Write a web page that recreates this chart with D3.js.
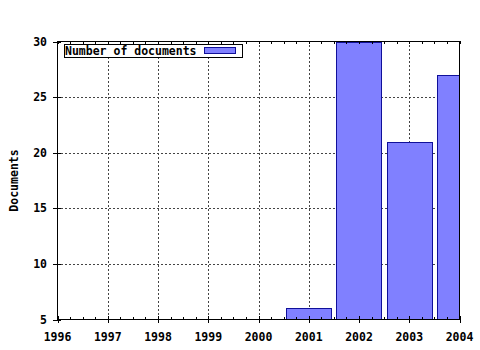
<!DOCTYPE html>
<html>
<head>
<meta charset="utf-8">
<script src="https://cdn.jsdelivr.net/npm/d3@7"></script>
<style>
  body { margin: 0; background: #fff; }
  text { font-family: "DejaVu Sans Mono", monospace; font-weight: bold; font-size: 11.5px; fill: #000; }
</style>
</head>
<body>
<div id="chart"></div>
<script>
// data
var years = [2001, 2002, 2003, 2004];
var docs = [6, 30, 21, 27];
var xTicks = [1996, 1997, 1998, 1999, 2000, 2001, 2002, 2003, 2004];
var yTicks = [5, 10, 15, 20, 25, 30];
var seriesName = "Number of documents";

var W = 480, H = 350;
var margin = {top: 41, right: 21, bottom: 30, left: 57};
var width = W - margin.left - margin.right,
    height = H - margin.top - margin.bottom;

var svg = d3.select("#chart").append("svg")
    .attr("width", W).attr("height", H);

var g = svg.append("g")
    .attr("transform", "translate(" + margin.left + "," + margin.top + ")");

var x = d3.scaleLinear().domain([1996, 2004]).range([0.5, width + 0.5]);
var y = d3.scaleLinear().domain([5, 30]).range([height - 0.5, 0.5]);

g.append("defs").append("clipPath").attr("id", "clip")
  .append("rect").attr("x", 0).attr("y", 0).attr("width", width + 1).attr("height", height);

// grid
g.selectAll(".vgrid").data(xTicks.slice(1, -1)).enter().append("line")
    .attr("x1", function(d) { return Math.round(x(d)) + 0.5; })
    .attr("x2", function(d) { return Math.round(x(d)) + 0.5; })
    .attr("y1", 0).attr("y2", height)
    .attr("stroke", "#444").attr("stroke-dasharray", "2,2");
g.selectAll(".hgrid").data(yTicks.slice(1, -1)).enter().append("line")
    .attr("y1", function(d) { return Math.round(y(d)) + 0.5; })
    .attr("y2", function(d) { return Math.round(y(d)) + 0.5; })
    .attr("x1", 0).attr("x2", width)
    .attr("stroke", "#444").attr("stroke-dasharray", "2,2");

// bars
var bw = 0.9;
g.append("g").attr("clip-path", "url(#clip)")
  .selectAll("rect").data(years).enter().append("rect")
    .attr("x", function(d) { return Math.round(x(d - bw / 2)) + 0.5; })
    .attr("width", function(d) { return Math.round(x(d + bw / 2) - x(d - bw / 2)); })
    .attr("y", function(d, i) { return Math.round(y(docs[i])) + 0.5; })
    .attr("height", function(d, i) { return Math.round(y(5) - y(docs[i])); })
    .attr("fill", "#8080ff")
    .attr("stroke", "#10109a");

// minor ticks (quarters) on bottom and top
var minor = d3.range(1996, 2004.01, 0.25);
g.selectAll(".mb").data(minor).enter().append("line")
    .attr("x1", function(d) { return Math.round(x(d)) + 0.5; })
    .attr("x2", function(d) { return Math.round(x(d)) + 0.5; })
    .attr("y1", height).attr("y2", height - 3)
    .attr("stroke", "#000");
g.selectAll(".mt").data(minor).enter().append("line")
    .attr("x1", function(d) { return Math.round(x(d)) + 0.5; })
    .attr("x2", function(d) { return Math.round(x(d)) + 0.5; })
    .attr("y1", 0).attr("y2", 3)
    .attr("stroke", "#000");

// major ticks
g.selectAll(".xt").data(xTicks).enter().append("line")
    .attr("x1", function(d) { return Math.round(x(d)) + 0.5; })
    .attr("x2", function(d) { return Math.round(x(d)) + 0.5; })
    .attr("y1", height - 4).attr("y2", height + 3)
    .attr("stroke", "#000");
g.selectAll(".yt").data(yTicks).enter().append("line")
    .attr("y1", function(d) { return Math.round(y(d)) + 0.5; })
    .attr("y2", function(d) { return Math.round(y(d)) + 0.5; })
    .attr("x1", -4).attr("x2", 4)
    .attr("stroke", "#000");

// frame
g.append("rect").attr("x", 0.5).attr("y", 0.5)
    .attr("width", width).attr("height", height - 1)
    .attr("fill", "none").attr("stroke", "#000");

// tick labels
g.selectAll(".xl").data(xTicks).enter().append("text")
    .attr("x", function(d) { return x(d); })
    .attr("y", height + 21)
    .attr("text-anchor", "middle")
    .text(function(d) { return d; });
g.selectAll(".yl").data(yTicks).enter().append("text")
    .attr("x", -10)
    .attr("y", function(d) { return y(d) + 4; })
    .attr("text-anchor", "end")
    .text(function(d) { return d; });

// axis title
svg.append("text")
    .attr("transform", "translate(18," + (margin.top + height / 2) + ") rotate(-90)")
    .attr("text-anchor", "middle")
    .text("Documents");

// legend
var leg = g.append("g").attr("transform", "translate(7,3)");
leg.append("rect").attr("x", 0.5).attr("y", 0.5)
    .attr("width", 178).attr("height", 13)
    .attr("fill", "#fff").attr("stroke", "#000");
leg.append("text").attr("x", 1).attr("y", 11).text(seriesName);
leg.append("rect").attr("x", 140.5).attr("y", 3.5)
    .attr("width", 31).attr("height", 6)
    .attr("fill", "#8080ff").attr("stroke", "#10109a");
</script>
</body>
</html>
